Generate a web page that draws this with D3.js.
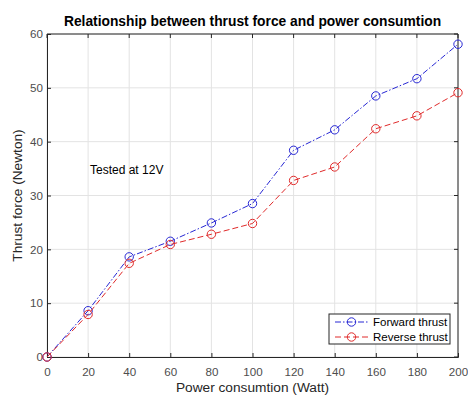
<!DOCTYPE html>
<html>
<head>
<meta charset="utf-8">
<script src="https://cdn.jsdelivr.net/npm/d3@7"></script>
<style>
  body { margin: 0; background: #fff; }
  svg { font-family: "Liberation Sans", Arial, sans-serif; }
</style>
</head>
<body>
<div id="chart"></div>
<script>
const power = [0, 20, 40, 60, 80, 100, 120, 140, 160, 180, 200];
const forwardThrust = [0, 8.6, 18.6, 21.5, 24.9, 28.5, 38.4, 42.2, 48.5, 51.7, 58.1];
const reverseThrust = [0, 7.9, 17.4, 20.9, 22.8, 24.8, 32.8, 35.3, 42.4, 44.8, 49.1];
const xTicks = [0, 20, 40, 60, 80, 100, 120, 140, 160, 180, 200];
const yTicks = [0, 10, 20, 30, 40, 50, 60];

const width = 468, height = 396;
const margin = { top: 34, right: 10, bottom: 39, left: 47 };

const svg = d3.select('#chart').append('svg')
    .attr('width', width)
    .attr('height', height);

const x = d3.scaleLinear().domain([0, 200]).range([margin.left, width - margin.right]);
const y = d3.scaleLinear().domain([0, 60]).range([height - margin.bottom, margin.top]);

// grid
svg.append('g').selectAll('line').data(xTicks).enter().append('line')
    .attr('x1', d => x(d)).attr('x2', d => x(d))
    .attr('y1', y(0)).attr('y2', y(60))
    .attr('stroke', '#e3e3e3');
svg.append('g').selectAll('line').data(yTicks).enter().append('line')
    .attr('y1', d => y(d)).attr('y2', d => y(d))
    .attr('x1', x(0)).attr('x2', x(200))
    .attr('stroke', '#e3e3e3');

// axes (ticks point inward, matlab style)
const xAxis = svg.append('g')
    .attr('transform', `translate(0,${y(0)})`)
    .call(d3.axisBottom(x).tickValues(xTicks).tickSize(-4).tickPadding(11));
const yAxis = svg.append('g')
    .attr('transform', `translate(${x(0)},0)`)
    .call(d3.axisLeft(y).tickValues(yTicks).tickSize(-4).tickPadding(4));
[xAxis, yAxis].forEach(a => {
  a.selectAll('text').attr('font-size', 11.6).attr('fill', '#4d4d4d').attr('font-family', null);
  a.selectAll('line').attr('stroke', '#262626');
  a.select('.domain').attr('stroke', '#262626');
});

// top / right box edges
svg.append('path')
    .attr('d', `M${x(0)},${y(60)}H${x(200)}V${y(0)}`)
    .attr('fill', 'none').attr('stroke', '#262626');
svg.append('g').selectAll('line').data(xTicks).enter().append('line')
    .attr('x1', d => x(d)).attr('x2', d => x(d))
    .attr('y1', y(60)).attr('y2', y(60) + 4).attr('stroke', '#262626');
svg.append('g').selectAll('line').data(yTicks).enter().append('line')
    .attr('y1', d => y(d)).attr('y2', d => y(d))
    .attr('x1', x(200)).attr('x2', x(200) - 4).attr('stroke', '#262626');

const series = [
  { name: 'Forward thrust', values: forwardThrust, color: '#2727d4', dash: '6,2,1.5,2' },
  { name: 'Reverse thrust', values: reverseThrust, color: '#e02a2a', dash: '6,3' }
];

const line = d3.line().x((d, i) => x(power[i])).y(d => y(d));

series.forEach(s => {
  svg.append('path')
      .datum(s.values)
      .attr('d', line)
      .attr('fill', 'none')
      .attr('stroke', s.color)
      .attr('stroke-width', 1)
      .attr('stroke-dasharray', s.dash);
  svg.append('g').selectAll('circle').data(s.values).enter().append('circle')
      .attr('cx', (d, i) => x(power[i]))
      .attr('cy', d => y(d))
      .attr('r', 4.2)
      .attr('fill', 'none')
      .attr('stroke', s.color)
      .attr('stroke-width', 1);
});

// titles
svg.append('text')
    .attr('x', (x(0) + x(200)) / 2).attr('y', 26)
    .attr('text-anchor', 'middle')
    .attr('font-size', 13.8).attr('font-weight', 'bold').attr('fill', '#000')
    .text('Relationship between thrust force and power consumtion');
svg.append('text')
    .attr('x', (x(0) + x(200)) / 2).attr('y', 392)
    .attr('text-anchor', 'middle')
    .attr('font-size', 13.7).attr('fill', '#262626')
    .text('Power consumtion (Watt)');
svg.append('text')
    .attr('transform', `translate(22,${(y(0) + y(60)) / 2}) rotate(-90)`)
    .attr('text-anchor', 'middle')
    .attr('font-size', 13.7).attr('fill', '#262626')
    .text('Thrust force (Newton)');

svg.append('text')
    .attr('x', 90).attr('y', 174)
    .attr('font-size', 12).attr('fill', '#000')
    .text('Tested at 12V');

// legend
const lg = svg.append('g').attr('transform', 'translate(329,314)');
lg.append('rect')
    .attr('width', 121).attr('height', 30)
    .attr('fill', '#fff').attr('stroke', '#262626');
series.forEach((s, i) => {
  const row = lg.append('g').attr('transform', `translate(0,${8 + i * 15})`);
  row.append('line')
      .attr('x1', 6).attr('x2', 39)
      .attr('stroke', s.color).attr('stroke-dasharray', s.dash);
  row.append('circle')
      .attr('cx', 22.5).attr('r', 4.2)
      .attr('fill', 'none').attr('stroke', s.color);
  row.append('text')
      .attr('x', 44).attr('dy', '0.35em')
      .attr('font-size', 11.5).attr('fill', '#000')
      .text(s.name);
});
</script>
</body>
</html>
